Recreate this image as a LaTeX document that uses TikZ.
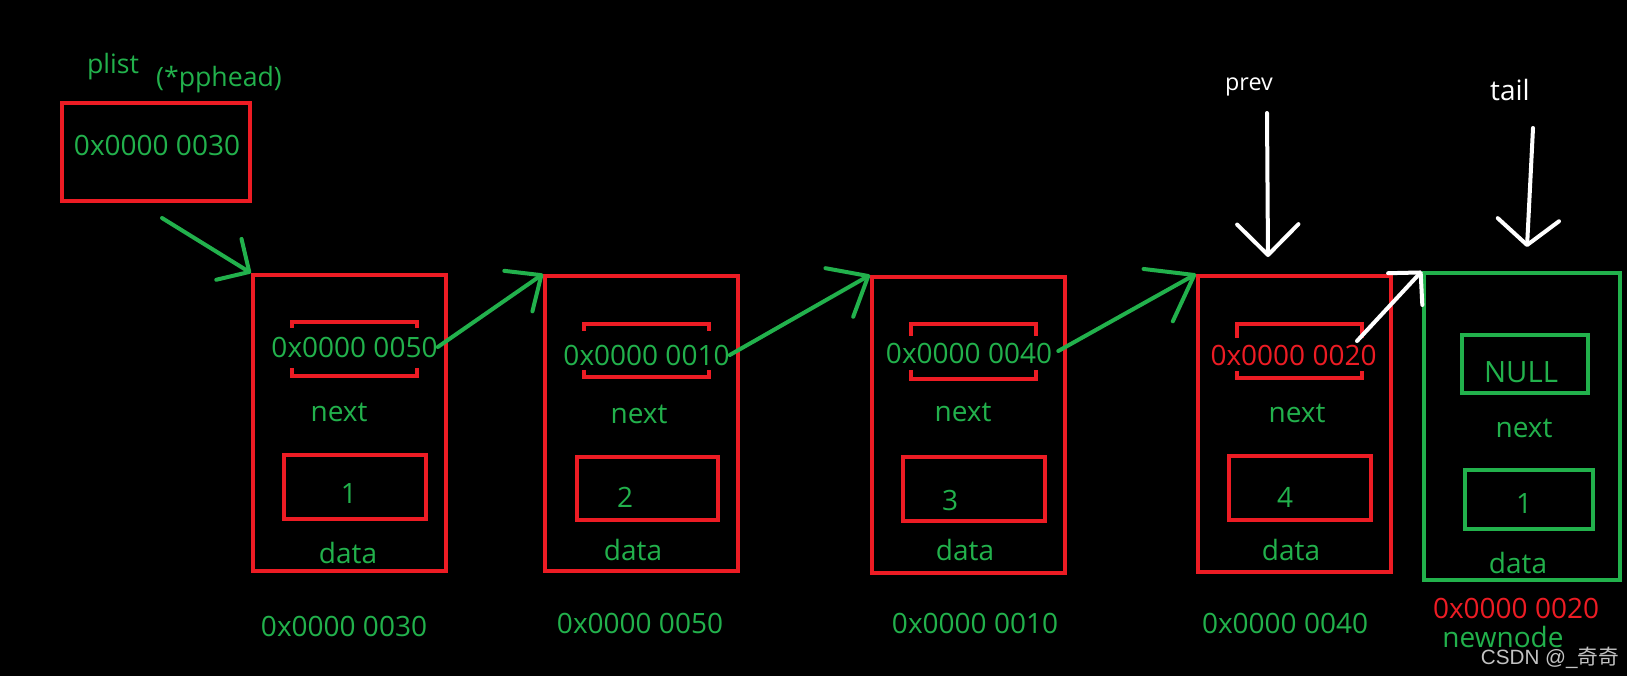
\documentclass[tikz,border=0pt]{standalone}
\usepackage{fontspec}
\setmainfont{Open Sans}
\newfontfamily\wmfont{Liberation Sans}
\newfontfamily\cjkfont{Noto Sans CJK SC}
\usetikzlibrary{arrows.meta,calc}
\definecolor{pred}{HTML}{ED1C24}
\definecolor{pgreen}{HTML}{22B14C}
\definecolor{wmgray}{HTML}{C3C3C3}
\tikzset{
  rbox/.style={draw=pred,line width=3pt},
  gbox/.style={draw=pgreen,line width=3pt},
  brk/.style={draw=pred,line width=3pt},
  gt/.style={text=pgreen},
  rt/.style={text=pred},
  wt/.style={text=white},
  garrow/.style={draw=pgreen,line width=3pt,line cap=round},
  warrow/.style={draw=white,line width=3pt,line cap=round},
}
\begin{document}
\begin{tikzpicture}[x=0.75pt,y=-0.75pt,
  every node/.style={inner sep=0pt,font=\fontsize{21}{25}\selectfont}]
\useasboundingbox (0,0) rectangle (1627,676);
\fill[black] (0,0) rectangle (1627,676);

% head pointer
\node[gt,font=\fontsize{20}{24}\selectfont] (plist) at (113,67) {plist};
\node[gt,font=\fontsize{20}{24}\selectfont] (pph) at (219,80) {(*pphead)};
\node[rbox,minimum width=188*0.75pt,minimum height=98*0.75pt] (head) at (156,152) {};
\node[gt] (headt) at (157,145) {0x0000 0030};

% list nodes
\node[rbox,minimum width=193*0.75pt,minimum height=296*0.75pt] (L1) at (349.5,423) {};
\node[rbox,minimum width=193*0.75pt,minimum height=295*0.75pt] (L2) at (641.5,423.5) {};
\node[rbox,minimum width=193*0.75pt,minimum height=296*0.75pt] (L3) at (968.5,425) {};
\node[rbox,minimum width=193*0.75pt,minimum height=296*0.75pt] (L4) at (1294.5,424) {};
\node[gbox,minimum width=196*0.75pt,minimum height=307*0.75pt] (L5) at (1522,426.5) {};

% next brackets
\node[minimum width=125*0.75pt,minimum height=54*0.75pt] (b1) at (354.5,349) {};
\node[minimum width=125*0.75pt,minimum height=53*0.75pt] (b2) at (646.5,350.5) {};
\node[minimum width=125*0.75pt,minimum height=55*0.75pt] (b3) at (973.5,351.5) {};
\node[minimum width=125*0.75pt,minimum height=54*0.75pt] (b4) at (1299.5,351) {};
\draw[brk] ($(b1.north west)+(0,6)$) |- (b1.north east) -- ++(0,6);
\draw[brk] ($(b1.south west)+(0,-8)$) |- (b1.south east) -- ++(0,-8);
\draw[brk] ($(b2.north west)+(0,7)$) |- (b2.north east) -- ++(0,7);
\draw[brk] ($(b2.south west)+(0,-7)$) |- (b2.south east) -- ++(0,-7);
\draw[brk] ($(b3.north west)+(0,12)$) |- (b3.north east) -- ++(0,12);
\draw[brk] ($(b3.south west)+(0,-9)$) |- (b3.south east) -- ++(0,-9);
\draw[brk] ($(b4.north west)+(0,14)$) |- (b4.north east) -- ++(0,14);
\draw[brk] ($(b4.south west)+(0,-7)$) |- (b4.south east) -- ++(0,-7);

\node[gt] (t1) at (354.5,347) {0x0000 0050};
\node[gt] (t2) at (646.5,355) {0x0000 0010};
\node[gt] (t3) at (969,353) {0x0000 0040};
\node[rt] (t4) at (1293.5,355) {0x0000 0020};
\node[gbox,minimum width=126*0.75pt,minimum height=58*0.75pt] (nb5) at (1525,364) {};
\node[gt,font=\fontsize{22}{26}\selectfont] (t5) at (1521,372) {NULL};

% next labels
\node[gt] (n1) at (339,412) {next};
\node[gt] (n2) at (639,414) {next};
\node[gt] (n3) at (963,412) {next};
\node[gt] (n4) at (1297,413) {next};
\node[gt] (n5) at (1524,428) {next};

% data boxes
\node[rbox,minimum width=142*0.75pt,minimum height=64*0.75pt] (d1) at (355,487) {};
\node[rbox,minimum width=141*0.75pt,minimum height=63*0.75pt] (d2) at (647.5,488.5) {};
\node[rbox,minimum width=142*0.75pt,minimum height=64*0.75pt] (d3) at (974,489) {};
\node[rbox,minimum width=142*0.75pt,minimum height=64*0.75pt] (d4) at (1300,488) {};
\node[gbox,minimum width=128*0.75pt,minimum height=59*0.75pt] (d5) at (1529,499.5) {};
\node[gt] (v1) at (349,493) {1};
\node[gt] (v2) at (625,497) {2};
\node[gt] (v3) at (950,500) {3};
\node[gt] (v4) at (1285,497) {4};
\node[gt] (v5) at (1524,503) {1};

% data labels
\node[gt] (dl1) at (348,553) {data};
\node[gt] (dl2) at (633,550) {data};
\node[gt] (dl3) at (965,550) {data};
\node[gt] (dl4) at (1291,550) {data};
\node[gt] (dl5) at (1518,563) {data};

% addresses
\node[gt] (ad1) at (344,626) {0x0000 0030};
\node[gt] (ad2) at (640,623) {0x0000 0050};
\node[gt] (ad3) at (975,623) {0x0000 0010};
\node[gt] (ad4) at (1285,623) {0x0000 0040};
\node[rt] (ad5) at (1516,608) {0x0000 0020};
\node[gt] (nn) at (1503,637) {newnode};

% prev / tail
\node[wt,font=\fontsize{17.5}{21}\selectfont] (prev) at (1249,87) {prev};
\node[wt] (tail) at (1510,90) {tail};

% green arrows
\coordinate (a0s) at (162,218);
\draw[garrow,-{Straight Barb[length=18pt,width=36pt,round]}] (a0s) -- (L1.north west);
\draw[garrow,-{Straight Barb[length=21pt,width=37pt,round]}] (t1.east) -- (L2.north west);
\draw[garrow,-{Straight Barb[length=25pt,width=42pt,round]}] (t2.east) -- (L3.north west);
\draw[garrow,-{Straight Barb[length=31pt,width=45pt,round]}] ($(t3.east)+(6,-2)$) -- (L4.north west);

% white arrows
\coordinate (a4s) at (1357,341);
\draw[warrow,-{Straight Barb[length=17pt,width=35pt,round]}] (a4s) -- (L5.north west);
\coordinate (ps) at (1267,113);
\coordinate (pe) at (1268,257);
\draw[warrow,-{Straight Barb[length=23pt,width=46pt,round]}] (ps) -- (pe);
\coordinate (ts) at (1533,128);
\coordinate (te) at (1527,247);
\draw[warrow,-{Straight Barb[length=19pt,width=46pt,round]}] (ts) -- (te);

% watermark
\node[text=wmgray,font=\wmfont\fontsize{15.5}{18}\selectfont] (wm) at (1550,658) {CSDN @\_{\cjkfont 奇奇}};
\end{tikzpicture}
\end{document}
